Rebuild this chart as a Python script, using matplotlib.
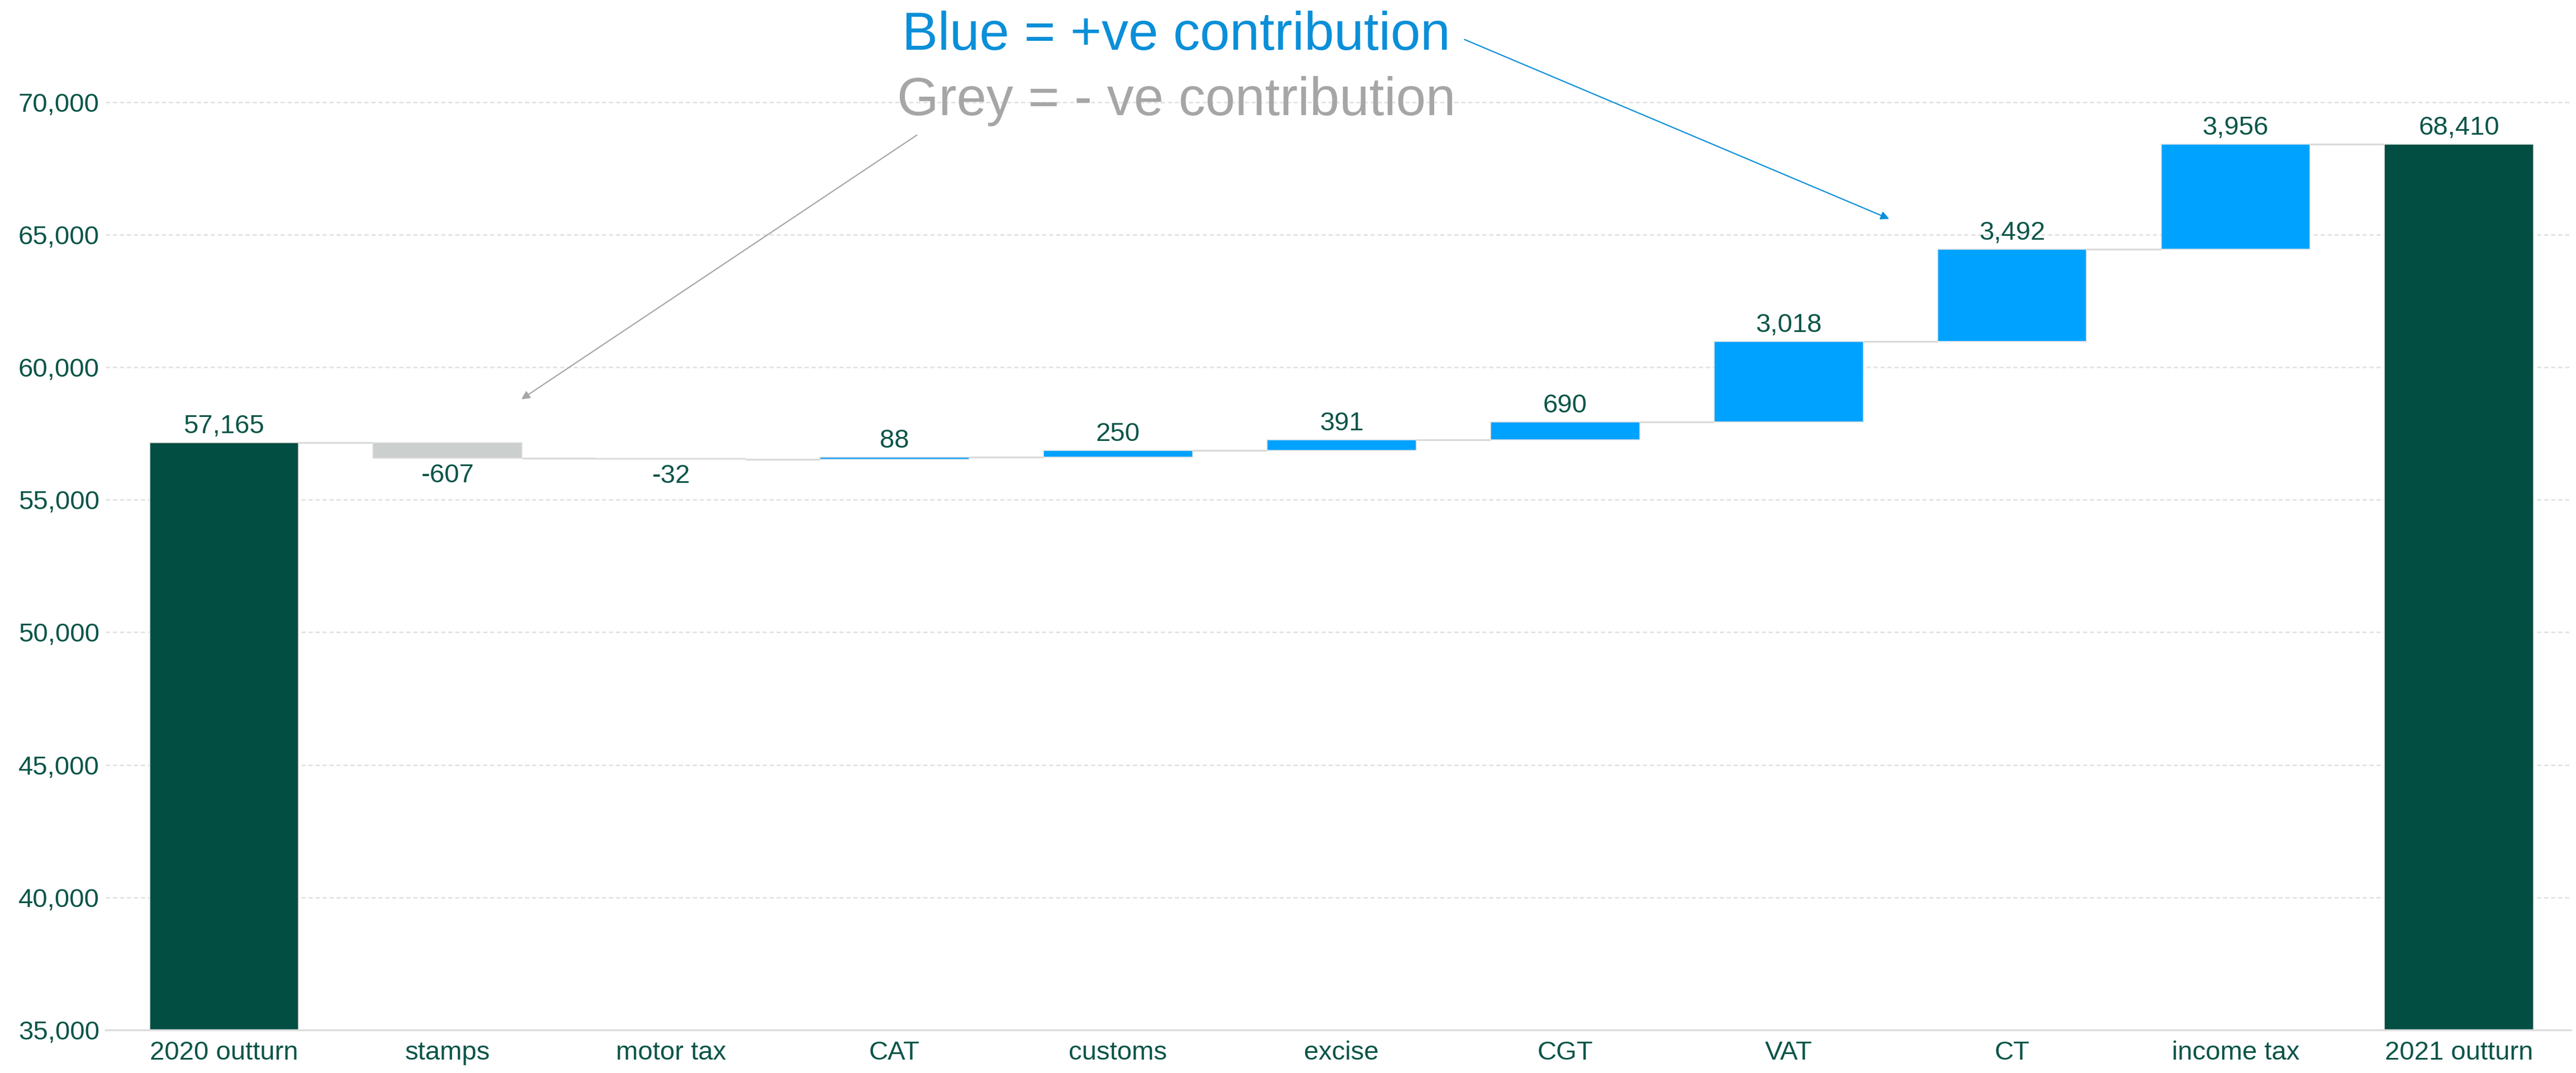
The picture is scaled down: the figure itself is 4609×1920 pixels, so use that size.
import numpy as np
import matplotlib
matplotlib.use("Agg")
import matplotlib.pyplot as plt

plt.rcParams['font.family'] = ['Liberation Sans', 'DejaVu Sans']

# tax heads, 2020 -> 2021 outturn bridge (EUR m)
categories = ["2020 outturn", "stamps", "motor tax", "CAT", "customs", "excise",
              "CGT", "VAT", "CT", "income tax", "2021 outturn"]
start_total = 57165
changes = [-607, -32, 88, 250, 391, 690, 3018, 3492, 3956]
end_total = 68410
yticks = [35000, 40000, 45000, 50000, 55000, 60000, 65000, 70000]

GREEN = "#024E42"
BLUE = "#00A2FF"
GREY = "#CBCFCE"
TEXT = "#0B5548"
LINE = "#D9D9D9"

fig = plt.figure(figsize=(46.09, 19.2), dpi=100)
ax = fig.add_axes([0.041, 0.0401, 0.957, 0.9389])

x = np.arange(len(categories))
width = 0.667

# running levels for the floating bars
level = start_total
bottoms, heights, colors = [start_total * 0], [start_total], [GREEN]
tops = [start_total]
for c in changes:
    new = level + c
    bottoms.append(min(level, new))
    heights.append(abs(c))
    colors.append(BLUE if c > 0 else GREY)
    tops.append(new)
    level = new
bottoms.append(0)
heights.append(end_total)
colors.append(GREEN)
tops.append(end_total)

ax.bar(x, heights, bottom=bottoms, width=width, color=colors,
       edgecolor="#E3E3E3", linewidth=1.2, zorder=2)

# connector lines between neighbouring bars
for i in range(len(x) - 1):
    ax.plot([x[i] + width / 2, x[i + 1] - width / 2], [tops[i], tops[i]],
            color=LINE, lw=2.2, zorder=1, solid_capstyle="butt")

# value labels
vals = [start_total] + changes + [end_total]
for i, v in enumerate(vals):
    txt = f"{v:,}"
    if i in (0, len(vals) - 1) or v > 0:
        ax.annotate(txt, (x[i], bottoms[i] + heights[i]), xytext=(0, 5),
                    textcoords="offset points", ha="center", va="bottom",
                    fontsize=34, color=TEXT)
    else:
        ax.annotate(txt, (x[i], bottoms[i]), xytext=(0, -6),
                    textcoords="offset points", ha="center", va="top",
                    fontsize=34, color=TEXT)

ax.set_xlim(-0.53, 10.5)
ax.set_ylim(35000, 73000)
ax.set_yticks(yticks)
ax.set_yticklabels([f"{t:,}" for t in yticks])
ax.set_xticks(x)
ax.set_xticklabels(categories)
ax.tick_params(axis="both", length=0, labelsize=34, labelcolor=TEXT)
ax.tick_params(axis="x", pad=14)
ax.tick_params(axis="y", pad=8)

ax.yaxis.grid(True, color="#E0E0E0", lw=1.8, ls=(0, (3, 2)), zorder=0)
ax.set_axisbelow(True)
for s in ["top", "right", "left"]:
    ax.spines[s].set_visible(False)
ax.spines["bottom"].set_visible(False)
ax.axhline(35000, color="#DDDDDD", lw=2.5, zorder=3, clip_on=False)

# colour key with pointers
ax.text(4.26, 71980, "Blue = +ve contribution", fontsize=69, color="#0A8FD8",
        ha="center", va="baseline", clip_on=False)
ax.text(4.26, 69515, "Grey = - ve contribution", fontsize=69, color="#A6A6A6",
        ha="center", va="baseline", clip_on=False)
ax.annotate("", xy=(7.45, 65596), xytext=(5.55, 72360),
            arrowprops=dict(arrowstyle="-|>", color="#0A8FD8", lw=1.6,
                            mutation_scale=22, shrinkA=0, shrinkB=0),
            annotation_clip=False)
ax.annotate("", xy=(1.33, 58790), xytext=(3.10, 68757),
            arrowprops=dict(arrowstyle="-|>", color="#A6A6A6", lw=1.6,
                            mutation_scale=22, shrinkA=0, shrinkB=0),
            annotation_clip=False)

fig.savefig("out.png", dpi=100, facecolor="white")
